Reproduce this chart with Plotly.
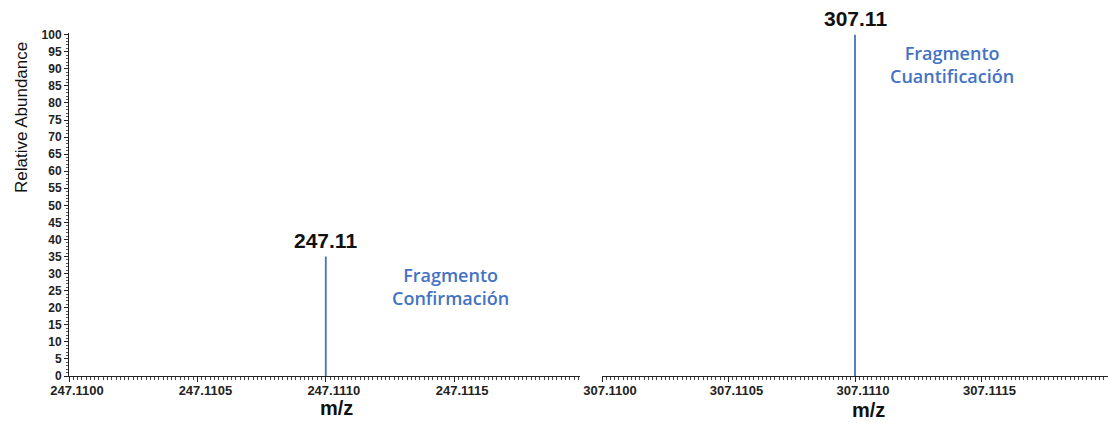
import plotly.graph_objects as go

# Fragment peaks (m/z, relative abundance)
peak_mz = [247.1110, 307.1110]
peak_abundance = [35, 100]
peak_labels = ["247.11", "307.11"]
fragment_names = ["Fragmento<br>Confirmación", "Fragmento<br>Cuantificación"]

# Axis windows and labelled ticks for the two panels
x_ranges = [[247.1100, 247.11199], [307.1100, 307.11200]]
x_ticks = [[247.1100, 247.1105, 247.1110, 247.1115],
           [307.1100, 307.1105, 307.1110, 307.1115]]
y_ticks = list(range(0, 101, 5))

W, H = 1108, 423
blue = "#4472C4"
ink = "#111"
sans = "Liberation Sans, Arial"

# plot area placement in pixels
L_LEFT, L_RIGHT, R_LEFT = 69, 580, 602
Y_BOTTOM, Y_TOP = 376, 33


def px_x(p):
    return p / W


def px_y(p):
    return (H - p) / H


fig = go.Figure()

for i in range(2):
    xa = "x" if i == 0 else "x2"
    ya = "y" if i == 0 else "y2"
    fig.add_trace(go.Scatter(
        x=[peak_mz[i], peak_mz[i]], y=[0, peak_abundance[i]],
        mode="lines", line=dict(color=blue, width=1.8),
        xaxis=xa, yaxis=ya, showlegend=False, hoverinfo="skip",
    ))
    # m/z label above the peak
    fig.add_annotation(
        x=peak_mz[i], y=peak_abundance[i], xref=xa, yref=ya,
        text=peak_labels[i], showarrow=False, xanchor="center", yanchor="bottom", yshift=3,
        font=dict(family=sans, size=21, color=ink, weight="bold"),
    )


def paper_text(x, y, text, font, **kw):
    fig.add_annotation(x=px_x(x), y=px_y(y), xref="paper", yref="paper",
                       text=text, showarrow=False, xanchor="center", yanchor="middle",
                       font=font, **kw)


# Fragment descriptions
frag_font = dict(family="Open Sans", size=18, color=blue, weight=600)
paper_text(450, 286, fragment_names[0], frag_font, align="center")
paper_text(952, 64, fragment_names[1], frag_font, align="center")

# Axis titles
mz_font = dict(family=sans, size=20, color=ink, weight="bold")
paper_text(336, 408, "m/z", mz_font)
paper_text(868, 410, "m/z", mz_font)
paper_text(22, 118, "Relative Abundance", dict(family=sans, size=17, color=ink), textangle=-90)

tickfont = dict(family=sans, size=13, color="#222", weight="bold")


def xaxis(i, domain):
    return dict(
        domain=domain, range=x_ranges[i], anchor="y" if i == 0 else "y2",
        automargin=False,
        showgrid=False, zeroline=False, showline=True, linecolor="#222", linewidth=1,
        ticks="outside", ticklen=5, tickcolor="#222", tickwidth=1,
        tickmode="array", tickvals=x_ticks[i], ticktext=[f"{v:.4f}" for v in x_ticks[i]],
        tickfont=tickfont, ticklabelshift=8, ticklabelstandoff=-3,
        minor=dict(ticks="outside", ticklen=2.5, tick0=x_ticks[i][0],
                   dtick=0.0000166667, tickcolor="#444", tickwidth=1),
    )


y_domain = [px_y(Y_BOTTOM), px_y(Y_TOP)]

fig.update_layout(
    width=W, height=H,
    margin=dict(l=0, r=0, t=0, b=0),
    paper_bgcolor="white", plot_bgcolor="white",
    xaxis=xaxis(0, [px_x(L_LEFT), px_x(L_RIGHT)]),
    xaxis2=xaxis(1, [px_x(R_LEFT), 1.0]),
    yaxis=dict(
        domain=y_domain, range=[0, 100.5], anchor="x", automargin=False,
        showgrid=False, zeroline=False, showline=True, linecolor="#222", linewidth=1,
        ticks="outside", ticklen=4, tickcolor="#222",
        tickmode="array", tickvals=y_ticks, ticktext=[str(v) for v in y_ticks],
        tickfont=dict(family=sans, size=12, color="#222", weight="bold"),
        minor=dict(ticks="outside", ticklen=2.5, dtick=1, tick0=0, tickcolor="#555"),
    ),
    yaxis2=dict(
        domain=y_domain, range=[0, 100.5], anchor="x2", automargin=False,
        showgrid=False, zeroline=False, showline=False, showticklabels=False, ticks="",
    ),
)

fig.write_html("out.html")
